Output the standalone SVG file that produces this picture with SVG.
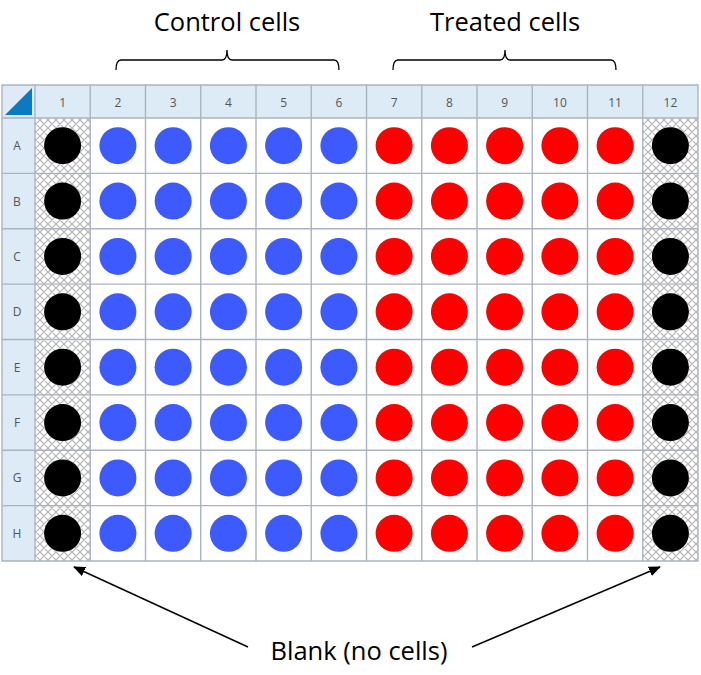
<svg xmlns="http://www.w3.org/2000/svg" width="701" height="675" viewBox="0 0 701 675">
<style>
.hdr{fill:#ddebf7}
.grid{stroke:#aab4c0;stroke-width:1.4;fill:none}
.ht{font-family:"Open Sans","Liberation Sans",sans-serif;font-size:12px;fill:#555;text-anchor:middle;dominant-baseline:central}
.lbl{font-family:"Open Sans","Liberation Sans",sans-serif;font-size:25.5px;fill:#000;text-anchor:middle}
.b{fill:#000}
.c{fill:#3d5afe}
.t{fill:#ff0000}
.brace{stroke:#000;stroke-width:1.3;fill:none}
.arr{stroke:#000;stroke-width:1.5;fill:none;marker-end:url(#ah)}
</style>
<defs>
<pattern id="hatch" patternUnits="userSpaceOnUse" width="8" height="8">
<rect width="8" height="8" fill="#fff"/>
<path d="M0,0 L8,8 M8,0 L0,8 M-2,6 L2,10 M6,-2 L10,2 M-2,2 L2,-2 M6,10 L10,6" stroke="#b4b4b4" stroke-width="1.2"/>
</pattern>
<marker id="ah" markerWidth="12" markerHeight="10" refX="11" refY="5" orient="auto" markerUnits="userSpaceOnUse">
<path d="M0,0 L12,5 L0,10 Z" fill="#000"/>
</marker>
</defs>
<rect width="701" height="675" fill="#fff"/>
<g id="plate">
<rect class="hdr" x="2" y="85" width="696" height="33"/>
<rect class="hdr" x="2" y="85" width="33" height="476"/>
<rect x="35" y="118" width="55.25" height="443" fill="url(#hatch)"/>
<rect x="642.75" y="118" width="55.25" height="443" fill="url(#hatch)"/>
<path d="M5,115 L32,88 L32,115 Z" fill="#0a7bc2"/>
<path class="grid" d="M2,85 H698 V561 H2 Z M2,118 H698 M2,173.4 H698 M2,228.75 H698 M2,284.1 H698 M2,339.5 H698 M2,394.9 H698 M2,450.25 H698 M2,505.6 H698 M35,85 V561 M90.25,85 V561 M145.5,85 V561 M200.75,85 V561 M256,85 V561 M311.25,85 V561 M366.5,85 V561 M421.75,85 V561 M477,85 V561 M532.25,85 V561 M587.5,85 V561 M642.75,85 V561"/>
<g id="col-headers">
<text class="ht" x="62.6" y="102">1</text><text class="ht" x="117.9" y="102">2</text><text class="ht" x="173.1" y="102">3</text><text class="ht" x="228.4" y="102">4</text><text class="ht" x="283.6" y="102">5</text><text class="ht" x="338.9" y="102">6</text><text class="ht" x="394.1" y="102">7</text><text class="ht" x="449.4" y="102">8</text><text class="ht" x="504.6" y="102">9</text><text class="ht" x="559.9" y="102">10</text><text class="ht" x="615.1" y="102">11</text><text class="ht" x="670.4" y="102">12</text>
</g>
<g id="row-headers">
<text class="ht" x="17" y="145.7">A</text><text class="ht" x="17" y="201.1">B</text><text class="ht" x="17" y="256.4">C</text><text class="ht" x="17" y="311.8">D</text><text class="ht" x="17" y="367.2">E</text><text class="ht" x="17" y="422.6">F</text><text class="ht" x="17" y="477.9">G</text><text class="ht" x="17" y="533.3">H</text>
</g>
</g>
<g id="wells-blank-1">
<g id="A1"><circle class="b" cx="62.6" cy="145.7" r="18.5"/></g>
<g id="B1"><circle class="b" cx="62.6" cy="201.1" r="18.5"/></g>
<g id="C1"><circle class="b" cx="62.6" cy="256.4" r="18.5"/></g>
<g id="D1"><circle class="b" cx="62.6" cy="311.8" r="18.5"/></g>
<g id="E1"><circle class="b" cx="62.6" cy="367.2" r="18.5"/></g>
<g id="F1"><circle class="b" cx="62.6" cy="422.6" r="18.5"/></g>
<g id="G1"><circle class="b" cx="62.6" cy="477.9" r="18.5"/></g>
<g id="H1"><circle class="b" cx="62.6" cy="533.3" r="18.5"/></g>
</g>
<g id="wells-blank-12">
<g id="A12"><circle class="b" cx="670.4" cy="145.7" r="18.5"/></g>
<g id="B12"><circle class="b" cx="670.4" cy="201.1" r="18.5"/></g>
<g id="C12"><circle class="b" cx="670.4" cy="256.4" r="18.5"/></g>
<g id="D12"><circle class="b" cx="670.4" cy="311.8" r="18.5"/></g>
<g id="E12"><circle class="b" cx="670.4" cy="367.2" r="18.5"/></g>
<g id="F12"><circle class="b" cx="670.4" cy="422.6" r="18.5"/></g>
<g id="G12"><circle class="b" cx="670.4" cy="477.9" r="18.5"/></g>
<g id="H12"><circle class="b" cx="670.4" cy="533.3" r="18.5"/></g>
</g>
<g id="wells-control">
<g id="A2"><circle class="c" cx="117.9" cy="145.7" r="18.5"/></g><g id="A3"><circle class="c" cx="173.1" cy="145.7" r="18.5"/></g><g id="A4"><circle class="c" cx="228.4" cy="145.7" r="18.5"/></g><g id="A5"><circle class="c" cx="283.6" cy="145.7" r="18.5"/></g><g id="A6"><circle class="c" cx="338.9" cy="145.7" r="18.5"/></g>
<g id="B2"><circle class="c" cx="117.9" cy="201.1" r="18.5"/></g><g id="B3"><circle class="c" cx="173.1" cy="201.1" r="18.5"/></g><g id="B4"><circle class="c" cx="228.4" cy="201.1" r="18.5"/></g><g id="B5"><circle class="c" cx="283.6" cy="201.1" r="18.5"/></g><g id="B6"><circle class="c" cx="338.9" cy="201.1" r="18.5"/></g>
<g id="C2"><circle class="c" cx="117.9" cy="256.4" r="18.5"/></g><g id="C3"><circle class="c" cx="173.1" cy="256.4" r="18.5"/></g><g id="C4"><circle class="c" cx="228.4" cy="256.4" r="18.5"/></g><g id="C5"><circle class="c" cx="283.6" cy="256.4" r="18.5"/></g><g id="C6"><circle class="c" cx="338.9" cy="256.4" r="18.5"/></g>
<g id="D2"><circle class="c" cx="117.9" cy="311.8" r="18.5"/></g><g id="D3"><circle class="c" cx="173.1" cy="311.8" r="18.5"/></g><g id="D4"><circle class="c" cx="228.4" cy="311.8" r="18.5"/></g><g id="D5"><circle class="c" cx="283.6" cy="311.8" r="18.5"/></g><g id="D6"><circle class="c" cx="338.9" cy="311.8" r="18.5"/></g>
<g id="E2"><circle class="c" cx="117.9" cy="367.2" r="18.5"/></g><g id="E3"><circle class="c" cx="173.1" cy="367.2" r="18.5"/></g><g id="E4"><circle class="c" cx="228.4" cy="367.2" r="18.5"/></g><g id="E5"><circle class="c" cx="283.6" cy="367.2" r="18.5"/></g><g id="E6"><circle class="c" cx="338.9" cy="367.2" r="18.5"/></g>
<g id="F2"><circle class="c" cx="117.9" cy="422.6" r="18.5"/></g><g id="F3"><circle class="c" cx="173.1" cy="422.6" r="18.5"/></g><g id="F4"><circle class="c" cx="228.4" cy="422.6" r="18.5"/></g><g id="F5"><circle class="c" cx="283.6" cy="422.6" r="18.5"/></g><g id="F6"><circle class="c" cx="338.9" cy="422.6" r="18.5"/></g>
<g id="G2"><circle class="c" cx="117.9" cy="477.9" r="18.5"/></g><g id="G3"><circle class="c" cx="173.1" cy="477.9" r="18.5"/></g><g id="G4"><circle class="c" cx="228.4" cy="477.9" r="18.5"/></g><g id="G5"><circle class="c" cx="283.6" cy="477.9" r="18.5"/></g><g id="G6"><circle class="c" cx="338.9" cy="477.9" r="18.5"/></g>
<g id="H2"><circle class="c" cx="117.9" cy="533.3" r="18.5"/></g><g id="H3"><circle class="c" cx="173.1" cy="533.3" r="18.5"/></g><g id="H4"><circle class="c" cx="228.4" cy="533.3" r="18.5"/></g><g id="H5"><circle class="c" cx="283.6" cy="533.3" r="18.5"/></g><g id="H6"><circle class="c" cx="338.9" cy="533.3" r="18.5"/></g>
</g>
<g id="wells-treated">
<g id="A7"><circle class="t" cx="394.1" cy="145.7" r="18.5"/></g><g id="A8"><circle class="t" cx="449.4" cy="145.7" r="18.5"/></g><g id="A9"><circle class="t" cx="504.6" cy="145.7" r="18.5"/></g><g id="A10"><circle class="t" cx="559.9" cy="145.7" r="18.5"/></g><g id="A11"><circle class="t" cx="615.1" cy="145.7" r="18.5"/></g>
<g id="B7"><circle class="t" cx="394.1" cy="201.1" r="18.5"/></g><g id="B8"><circle class="t" cx="449.4" cy="201.1" r="18.5"/></g><g id="B9"><circle class="t" cx="504.6" cy="201.1" r="18.5"/></g><g id="B10"><circle class="t" cx="559.9" cy="201.1" r="18.5"/></g><g id="B11"><circle class="t" cx="615.1" cy="201.1" r="18.5"/></g>
<g id="C7"><circle class="t" cx="394.1" cy="256.4" r="18.5"/></g><g id="C8"><circle class="t" cx="449.4" cy="256.4" r="18.5"/></g><g id="C9"><circle class="t" cx="504.6" cy="256.4" r="18.5"/></g><g id="C10"><circle class="t" cx="559.9" cy="256.4" r="18.5"/></g><g id="C11"><circle class="t" cx="615.1" cy="256.4" r="18.5"/></g>
<g id="D7"><circle class="t" cx="394.1" cy="311.8" r="18.5"/></g><g id="D8"><circle class="t" cx="449.4" cy="311.8" r="18.5"/></g><g id="D9"><circle class="t" cx="504.6" cy="311.8" r="18.5"/></g><g id="D10"><circle class="t" cx="559.9" cy="311.8" r="18.5"/></g><g id="D11"><circle class="t" cx="615.1" cy="311.8" r="18.5"/></g>
<g id="E7"><circle class="t" cx="394.1" cy="367.2" r="18.5"/></g><g id="E8"><circle class="t" cx="449.4" cy="367.2" r="18.5"/></g><g id="E9"><circle class="t" cx="504.6" cy="367.2" r="18.5"/></g><g id="E10"><circle class="t" cx="559.9" cy="367.2" r="18.5"/></g><g id="E11"><circle class="t" cx="615.1" cy="367.2" r="18.5"/></g>
<g id="F7"><circle class="t" cx="394.1" cy="422.6" r="18.5"/></g><g id="F8"><circle class="t" cx="449.4" cy="422.6" r="18.5"/></g><g id="F9"><circle class="t" cx="504.6" cy="422.6" r="18.5"/></g><g id="F10"><circle class="t" cx="559.9" cy="422.6" r="18.5"/></g><g id="F11"><circle class="t" cx="615.1" cy="422.6" r="18.5"/></g>
<g id="G7"><circle class="t" cx="394.1" cy="477.9" r="18.5"/></g><g id="G8"><circle class="t" cx="449.4" cy="477.9" r="18.5"/></g><g id="G9"><circle class="t" cx="504.6" cy="477.9" r="18.5"/></g><g id="G10"><circle class="t" cx="559.9" cy="477.9" r="18.5"/></g><g id="G11"><circle class="t" cx="615.1" cy="477.9" r="18.5"/></g>
<g id="H7"><circle class="t" cx="394.1" cy="533.3" r="18.5"/></g><g id="H8"><circle class="t" cx="449.4" cy="533.3" r="18.5"/></g><g id="H9"><circle class="t" cx="504.6" cy="533.3" r="18.5"/></g><g id="H10"><circle class="t" cx="559.9" cy="533.3" r="18.5"/></g><g id="H11"><circle class="t" cx="615.1" cy="533.3" r="18.5"/></g>
</g>
<g id="label-control">
<text class="lbl" x="227" y="31">Control cells</text>
<path class="brace" d="M116,70 Q116,60 121,60 L222,60 Q227,60 227,50 Q227,60 232,60 L334,60 Q339,60 339,70"/>
</g>
<g id="label-treated">
<text class="lbl" x="505" y="31">Treated cells</text>
<path class="brace" d="M393,70 Q393,60 398,60 L500,60 Q505,60 505,50 Q505,60 510,60 L611,60 Q616,60 616,70"/>
</g>
<g id="label-blank">
<text class="lbl" x="359" y="660">Blank (no cells)</text>
</g>
<g id="connectors">
<path class="arr" d="M248,647 L74,567"/>
<path class="arr" d="M472,647 L660,567"/>
</g>
</svg>
